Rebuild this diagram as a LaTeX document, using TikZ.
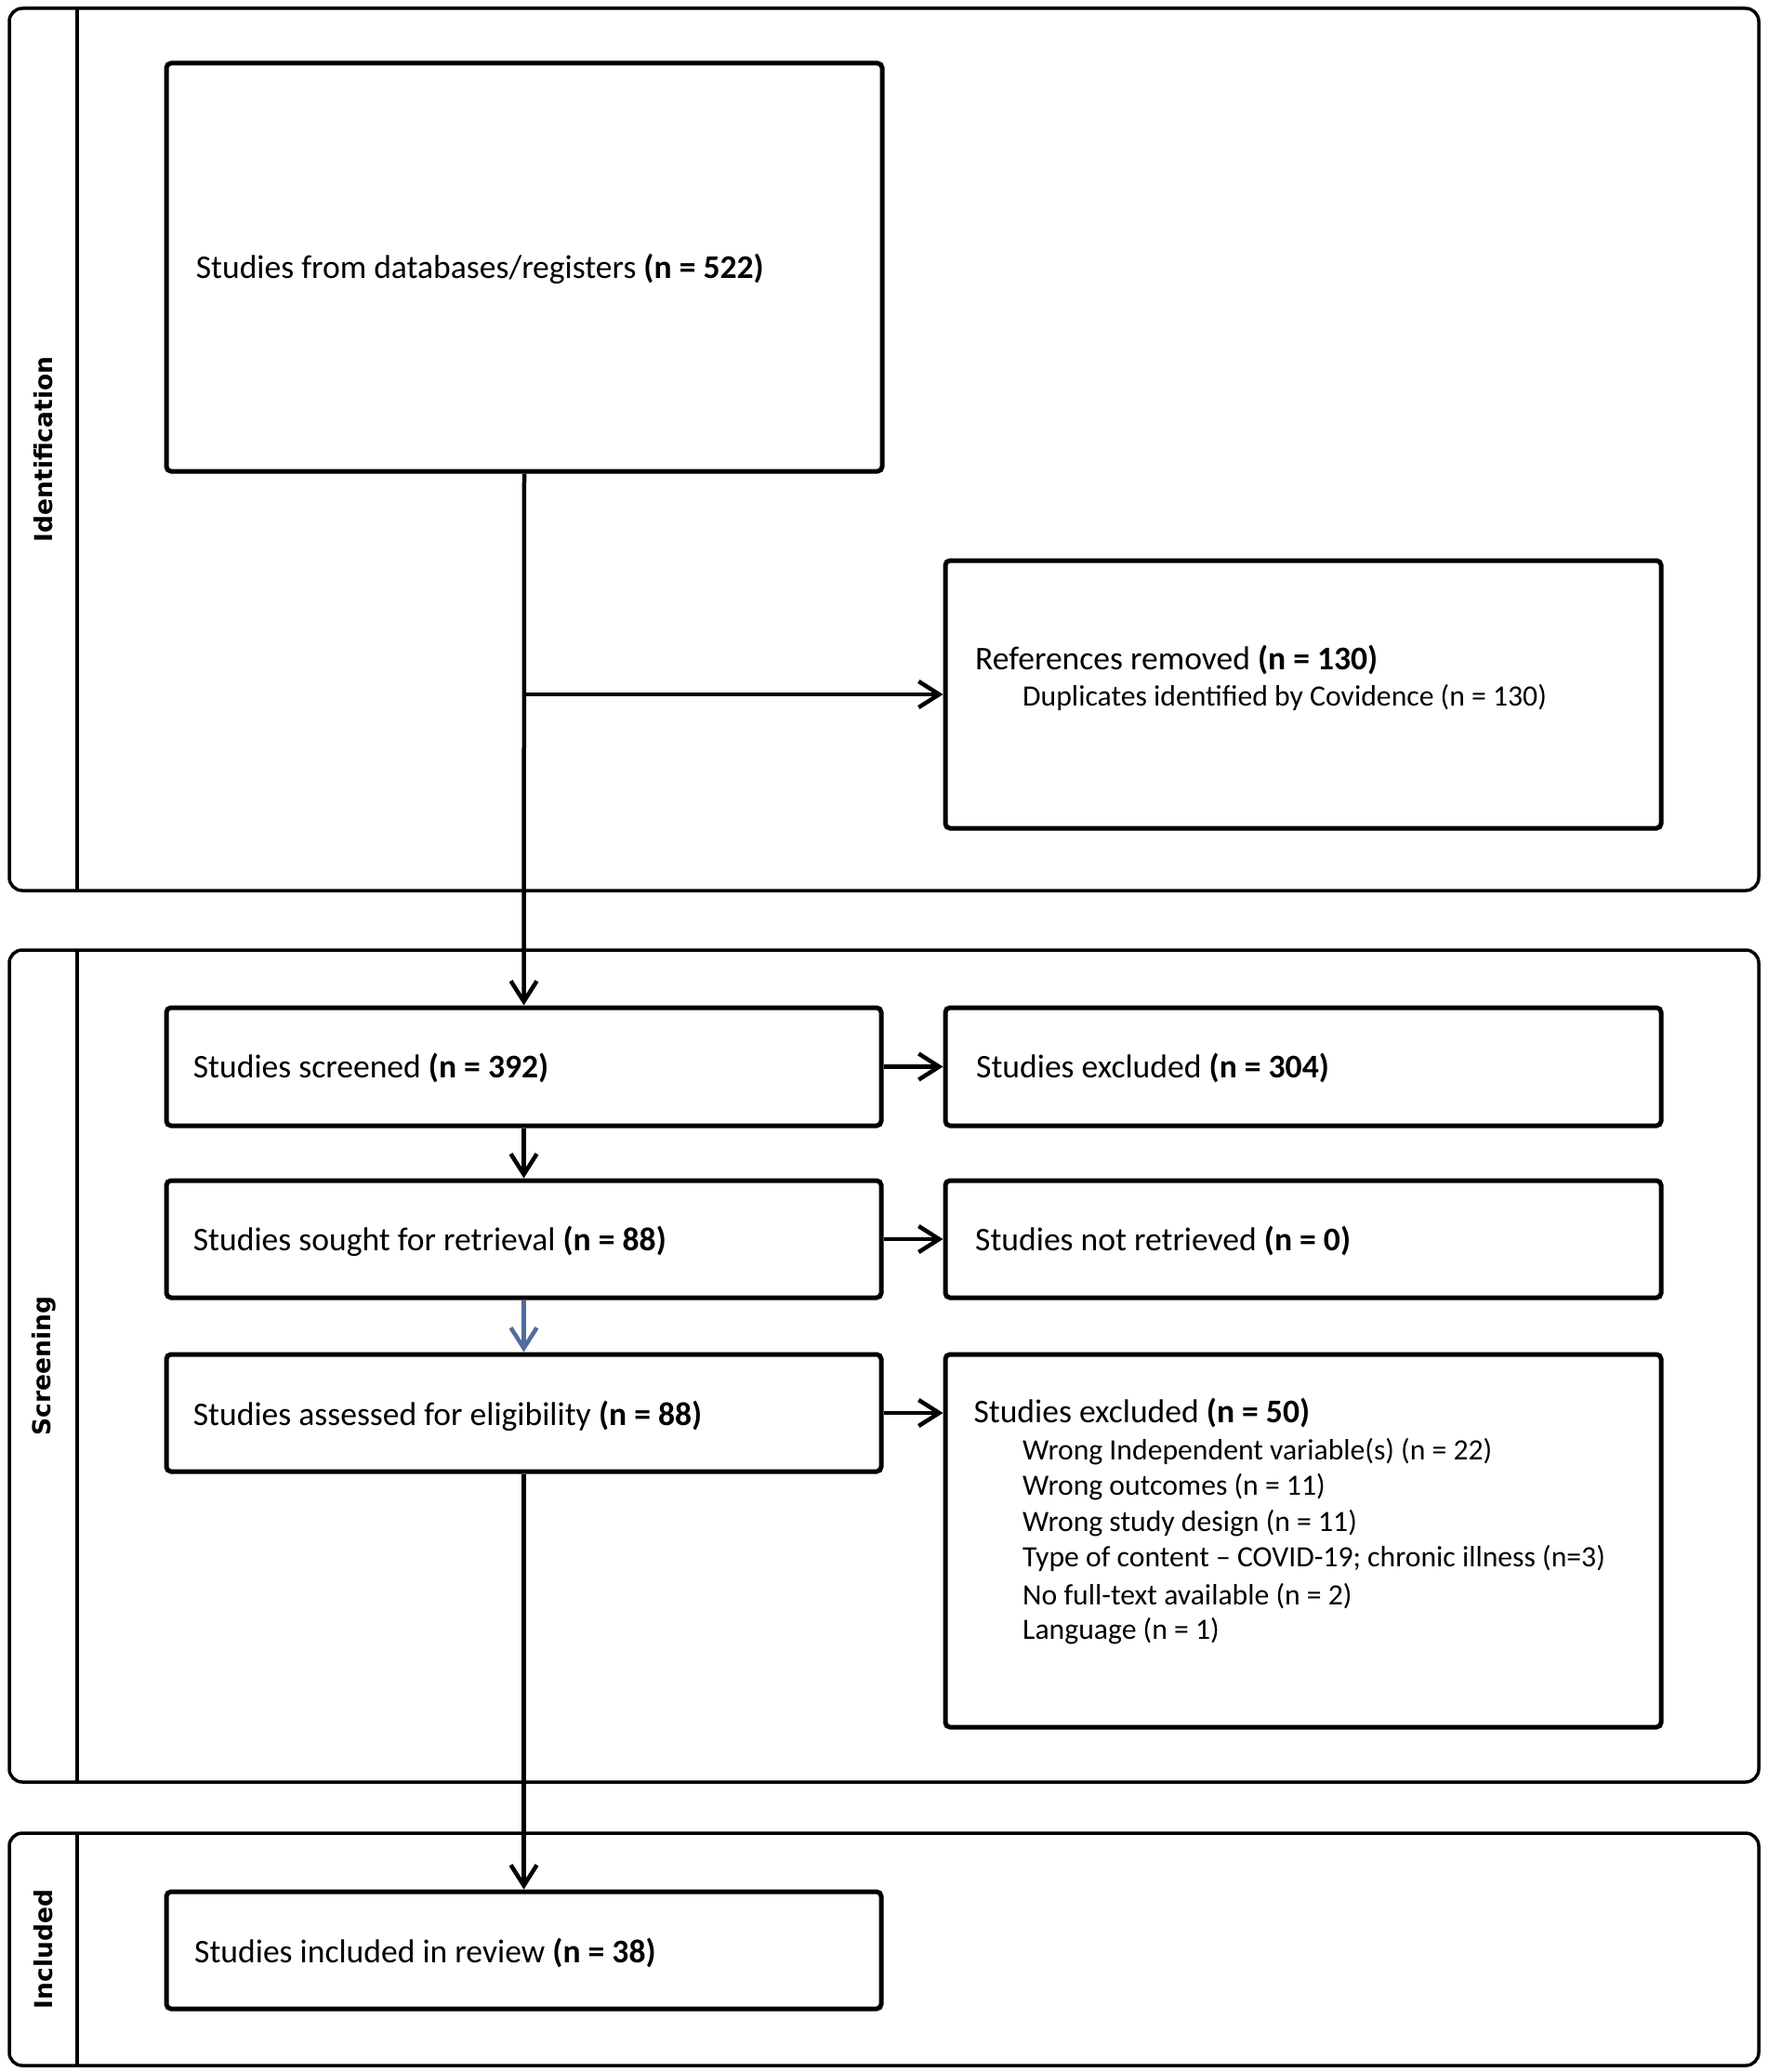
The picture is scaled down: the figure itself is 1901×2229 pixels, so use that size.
\documentclass[tikz,border=0pt]{standalone}
\usepackage{fontspec}
\setmainfont{Carlito}
\newfontfamily\lanefont{DejaVu Sans}
\usetikzlibrary{arrows.meta}
\definecolor{bluearrow}{HTML}{4F6D9E}
\begin{document}
\begin{tikzpicture}[x=1pt,y=-1pt,
  lane/.style={draw, line width=3.5pt, rounded corners=14pt, inner sep=0pt},
  boxst/.style={draw, line width=5pt, rounded corners=5pt, inner sep=0pt},
  txt/.style={anchor=west, inner sep=0pt, font=\fontsize{35.6}{42}\selectfont},
  subtxt/.style={anchor=west, inner sep=0pt, font=\fontsize{31.7}{38}\selectfont},
  lanelbl/.style={rotate=90, inner sep=0pt, font=\lanefont\bfseries\fontsize{26.5}{30}\selectfont},
  arr/.style={line width=4.5pt, -{Straight Barb[length=22pt,width=28pt,line width=4.5pt]}}
]
\useasboundingbox (0,0) rectangle (1901,2229);

% lanes
\node[lane, minimum width=1882pt, minimum height=949pt] (lid) at (951,483.5) {};
\draw[line width=3.5pt] (83,9) -- (83,958);
\node[lanelbl] (lidlbl) at (47,483.5) {Identification};

\node[lane, minimum width=1882pt, minimum height=895pt] (lsc) at (951,1469.5) {};
\draw[line width=3.5pt] (83,1022) -- (83,1917);
\node[lanelbl] (lsclbl) at (47,1469.5) {Screening};

\node[lane, minimum width=1882pt, minimum height=250pt] (lin) at (951,2097) {};
\draw[line width=3.5pt] (83,1972) -- (83,2222);
\node[lanelbl] (linlbl) at (47,2097) {Included};

% boxes
\node[boxst, minimum width=770pt, minimum height=439pt] (b1) at (564,287.5) {};
\node[boxst, minimum width=770pt, minimum height=288pt] (refs) at (1402,747) {};
\node[boxst, minimum width=769pt, minimum height=127pt] (scr) at (563.5,1147.5) {};
\node[boxst, minimum width=770pt, minimum height=127pt] (ex1) at (1402,1147.5) {};
\node[boxst, minimum width=769pt, minimum height=126pt] (sought) at (563.5,1333) {};
\node[boxst, minimum width=770pt, minimum height=126pt] (notret) at (1402,1333) {};
\node[boxst, minimum width=769pt, minimum height=126pt] (assess) at (563.5,1520) {};
\node[boxst, minimum width=770pt, minimum height=401pt] (ex2) at (1402,1657.5) {};
\node[boxst, minimum width=769pt, minimum height=126pt] (incl) at (563.5,2098) {};

% texts
\node[txt] (t1) at (210.6,289) {Studies from databases/registers \textbf{(n = 522)}};
\node[txt] (t2) at (1049,710) {References removed \textbf{(n = 130)}};
\node[subtxt] (t2a) at (1100,750) {Duplicates identified by Covidence (n = 130)};
\node[txt] (t3) at (207.7,1149) {Studies screened \textbf{(n = 392)}};
\node[txt] (t4) at (1050,1149) {Studies excluded \textbf{(n = 304)}};
\node[txt] (t5) at (207.7,1335) {Studies sought for retrieval \textbf{(n = 88)}};
\node[txt] (t6) at (1049,1335) {Studies not retrieved \textbf{(n = 0)}};
\node[txt] (t7) at (207.7,1523) {Studies assessed for eligibility \textbf{(n = 88)}};
\node[txt] (t8) at (1047.3,1520) {Studies excluded \textbf{(n = 50)}};
\node[subtxt] (t8a) at (1100,1561.5) {Wrong Independent variable(s) (n = 22)};
\node[subtxt] (t8b) at (1100,1600) {Wrong outcomes (n = 11)};
\node[subtxt] (t8c) at (1100,1638.3) {Wrong study design (n = 11)};
\node[subtxt] (t8d) at (1100,1676.8) {Type of content – COVID-19; chronic illness (n=3)};
\node[subtxt] (t8e) at (1100,1716.6) {No full-text available (n = 2)};
\node[subtxt] (t8f) at (1100,1755) {Language (n = 1)};
\node[txt] (t9) at (209,2101) {Studies included in review \textbf{(n = 38)}};

% connectors
\draw[arr] (b1.south) -- (scr.north);
\coordinate (br) at (b1.south |- refs.west);
\draw[arr] (br) -- (refs.west);
\draw[arr] (scr.east) -- (ex1.west);
\draw[arr] (scr.south) -- (sought.north);
\draw[arr] (sought.east) -- (notret.west);
\draw[arr, bluearrow] (sought.south) -- (assess.north);
\draw[arr] (assess.east) -- (assess.east -| ex2.west);
\draw[arr] (assess.south) -- (incl.north);
\end{tikzpicture}
\end{document}
